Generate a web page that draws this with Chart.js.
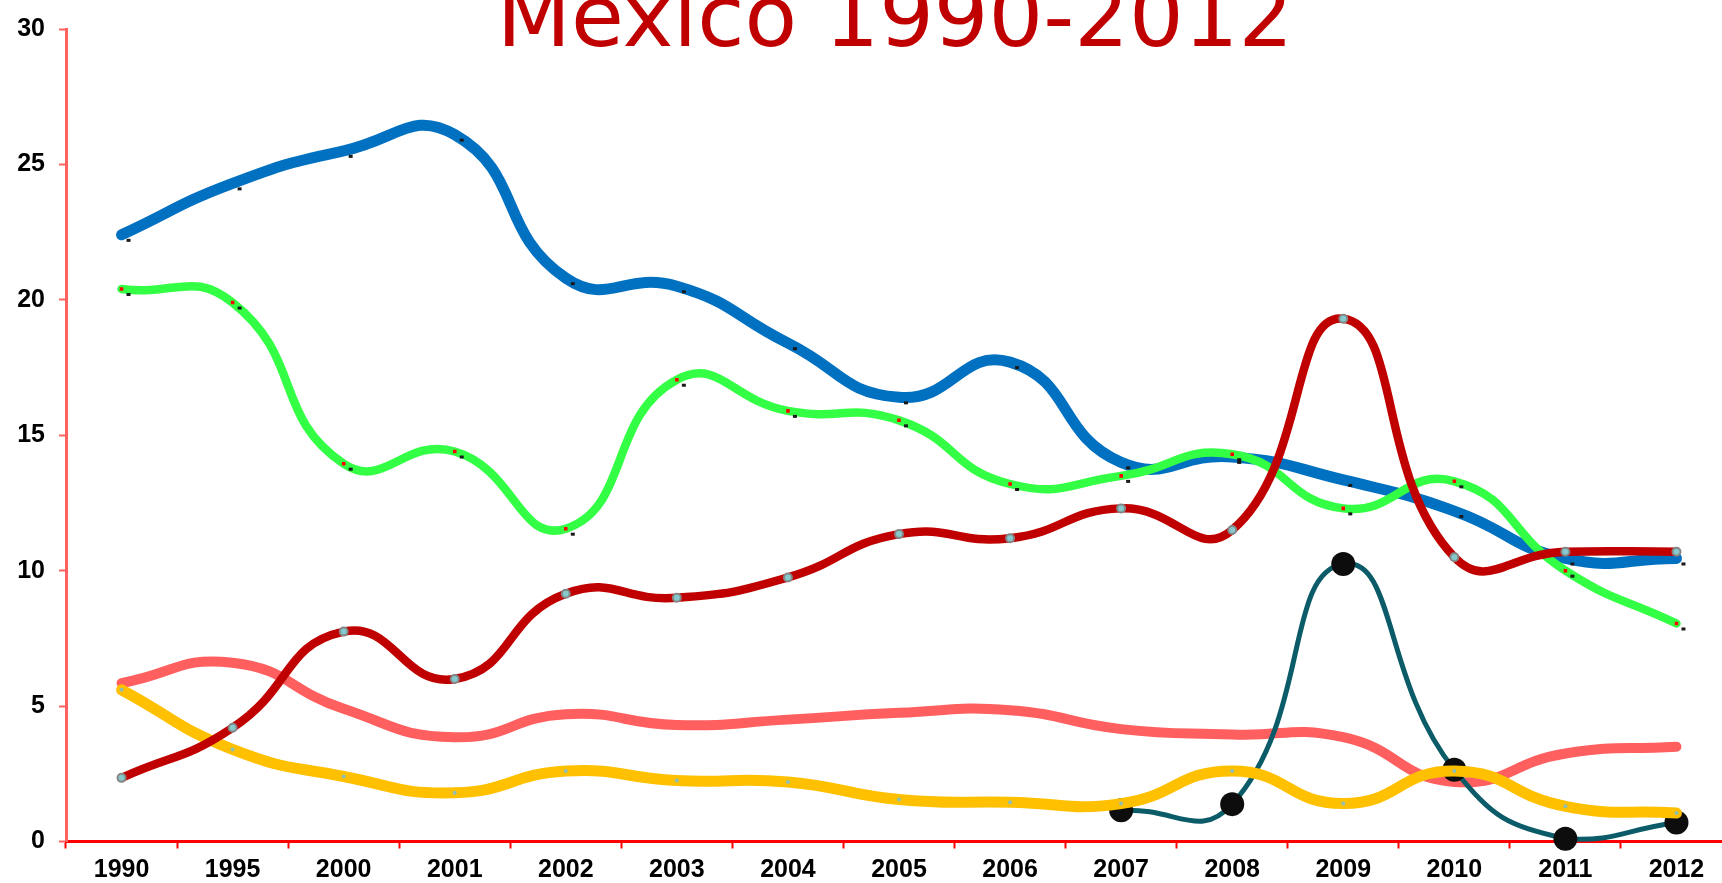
<!DOCTYPE html>
<html>
<head>
<meta charset="utf-8">
<title>Mexico 1990-2012</title>
<script src="https://cdn.jsdelivr.net/npm/chart.js@4/dist/chart.umd.min.js"></script>
<style>
  html, body { margin: 0; padding: 0; background: #fff; overflow: hidden; }
  canvas { display: block; }
</style>
</head>
<body>
<canvas id="myChart" width="1752" height="883"></canvas>
<script>
const years = ['1990', '1995', '2000', '2001', '2002', '2003', '2004', '2005',
  '2006', '2007', '2008', '2009', '2010', '2011', '2012'];

const blueSeries = [22.4, 24.3, 25.5, 26.1, 20.8, 20.5, 18.4, 16.4, 17.7, 14.0, 14.2, 13.35, 12.2, 10.45, 10.45];
const greenSeries = [20.4, 19.9, 13.95, 14.4, 11.55, 17.05, 15.9, 15.55, 13.2, 13.5, 14.3, 12.3, 13.3, 10.0, 8.05];
const redSeries = [2.35, 4.2, 7.75, 6.0, 9.15, 9.0, 9.75, 11.35, 11.2, 12.3, 11.5, 19.3, 10.5, 10.7, 10.7];
const pinkSeries = [5.85, 6.6, 4.9, 3.85, 4.7, 4.3, 4.5, 4.75, 4.85, 4.15, 3.95, 3.85, 2.2, 3.25, 3.5];
const yellowSeries = [5.6, 3.4, 2.4, 1.8, 2.6, 2.25, 2.2, 1.55, 1.45, 1.4, 2.6, 1.4, 2.6, 1.3, 1.05];
const tealSeries = [null, null, null, null, null, null, null, null, null, 1.15, 1.38, 10.25, 2.65, 0.1, 0.7];

const yTicks = [0, 5, 10, 15, 20, 25, 30];
const titleText = 'Mexico 1990-2012';

// big red heading over the plot
const titlePlugin = {
  id: 'bigTitle',
  afterDraw(chart) {
    const { ctx, chartArea } = chart;
    ctx.save();
    ctx.font = '86px "DejaVu Sans"';
    ctx.fillStyle = '#C00000';
    ctx.textAlign = 'center';
    ctx.textBaseline = 'alphabetic';
    ctx.fillText(titleText, (chartArea.left + chartArea.right) / 2 - 4, chartArea.top + 17);
    ctx.restore();
  }
};

// little dark marks sitting just off some of the points
const dotShadows = {
  id: 'dotShadows',
  afterDatasetsDraw(chart) {
    const { ctx } = chart;
    ctx.save();
    ctx.fillStyle = '#1a1a1a';
    chart.data.datasets.forEach((ds, i) => {
      if (!ds.shadowDots) return;
      chart.getDatasetMeta(i).data.forEach(pt => {
        if (pt.skip) return;
        ctx.fillRect(pt.x + 5, pt.y + 4, 4, 3);
      });
    });
    ctx.restore();
  }
};

const line = (data, color, width, extra) => Object.assign({
  data: data,
  borderColor: color,
  backgroundColor: color,
  borderWidth: width,
  fill: false,
  tension: 0.5,
  pointRadius: 0,
  borderCapStyle: 'round',
  borderJoinStyle: 'round'
}, extra);

const tickFont = { family: '"Liberation Sans", Arial, sans-serif', size: 25, weight: 'bold' };

const ctx = document.getElementById('myChart').getContext('2d');

new Chart(ctx, {
  type: 'line',
  data: {
    labels: years,
    datasets: [
      line(redSeries, '#C00000', 8.5, {
        order: 0,
        pointRadius: 4,
        pointBackgroundColor: '#86c9cc',
        pointBorderColor: '#858585',
        pointBorderWidth: 2
      }),
      line(yellowSeries, '#FFC000', 11, {
        order: 1,
        pointRadius: 2,
        pointBackgroundColor: '#8ebfb4',
        pointBorderWidth: 0
      }),
      line(tealSeries, '#0B5C68', 5, {
        order: 2,
        clip: false,
        pointRadius: 12,
        pointBackgroundColor: '#0d0d0d',
        pointBorderColor: '#0d0d0d',
        pointBorderWidth: 0
      }),
      line(pinkSeries, '#FF5F5F', 10, { order: 3 }),
      line(greenSeries, '#33FF44', 8.5, {
        order: 4,
        shadowDots: true,
        pointRadius: 2.5,
        pointStyle: 'rect',
        pointBackgroundColor: '#ff0000',
        pointBorderWidth: 0
      }),
      line(blueSeries, '#0070C0', 11, { order: 5, shadowDots: true })
    ]
  },
  options: {
    responsive: false,
    animation: false,
    devicePixelRatio: 1,
    layout: { padding: { top: 24, left: 0, right: 20, bottom: 0 } },
    plugins: {
      legend: { display: false },
      tooltip: { enabled: false },
      title: { display: false }
    },
    scales: {
      x: {
        offset: true,
        afterFit(scale) { scale.height = 41.5; },
        grid: {
          offset: true,
          drawOnChartArea: false,
          drawTicks: true,
          tickLength: 7,
          tickColor: '#FF0000',
          tickWidth: 2
        },
        border: { display: true, color: '#FF0000', width: 3 },
        ticks: {
          color: '#000',
          padding: 7,
          autoSkip: false,
          maxRotation: 0,
          font: tickFont
        }
      },
      y: {
        min: yTicks[0],
        max: yTicks[yTicks.length - 1],
        afterFit(scale) { scale.width = 66; },
        afterBuildTicks(scale) { scale.ticks = yTicks.map(v => ({ value: v })); },
        grid: {
          drawOnChartArea: false,
          drawTicks: true,
          tickLength: 7,
          tickColor: '#FF6060',
          tickWidth: 2
        },
        border: { display: true, color: '#FF6060', width: 3 },
        ticks: {
          color: '#000',
          padding: 14,
          font: tickFont
        }
      }
    }
  },
  plugins: [titlePlugin, dotShadows]
});
</script>
</body>
</html>
